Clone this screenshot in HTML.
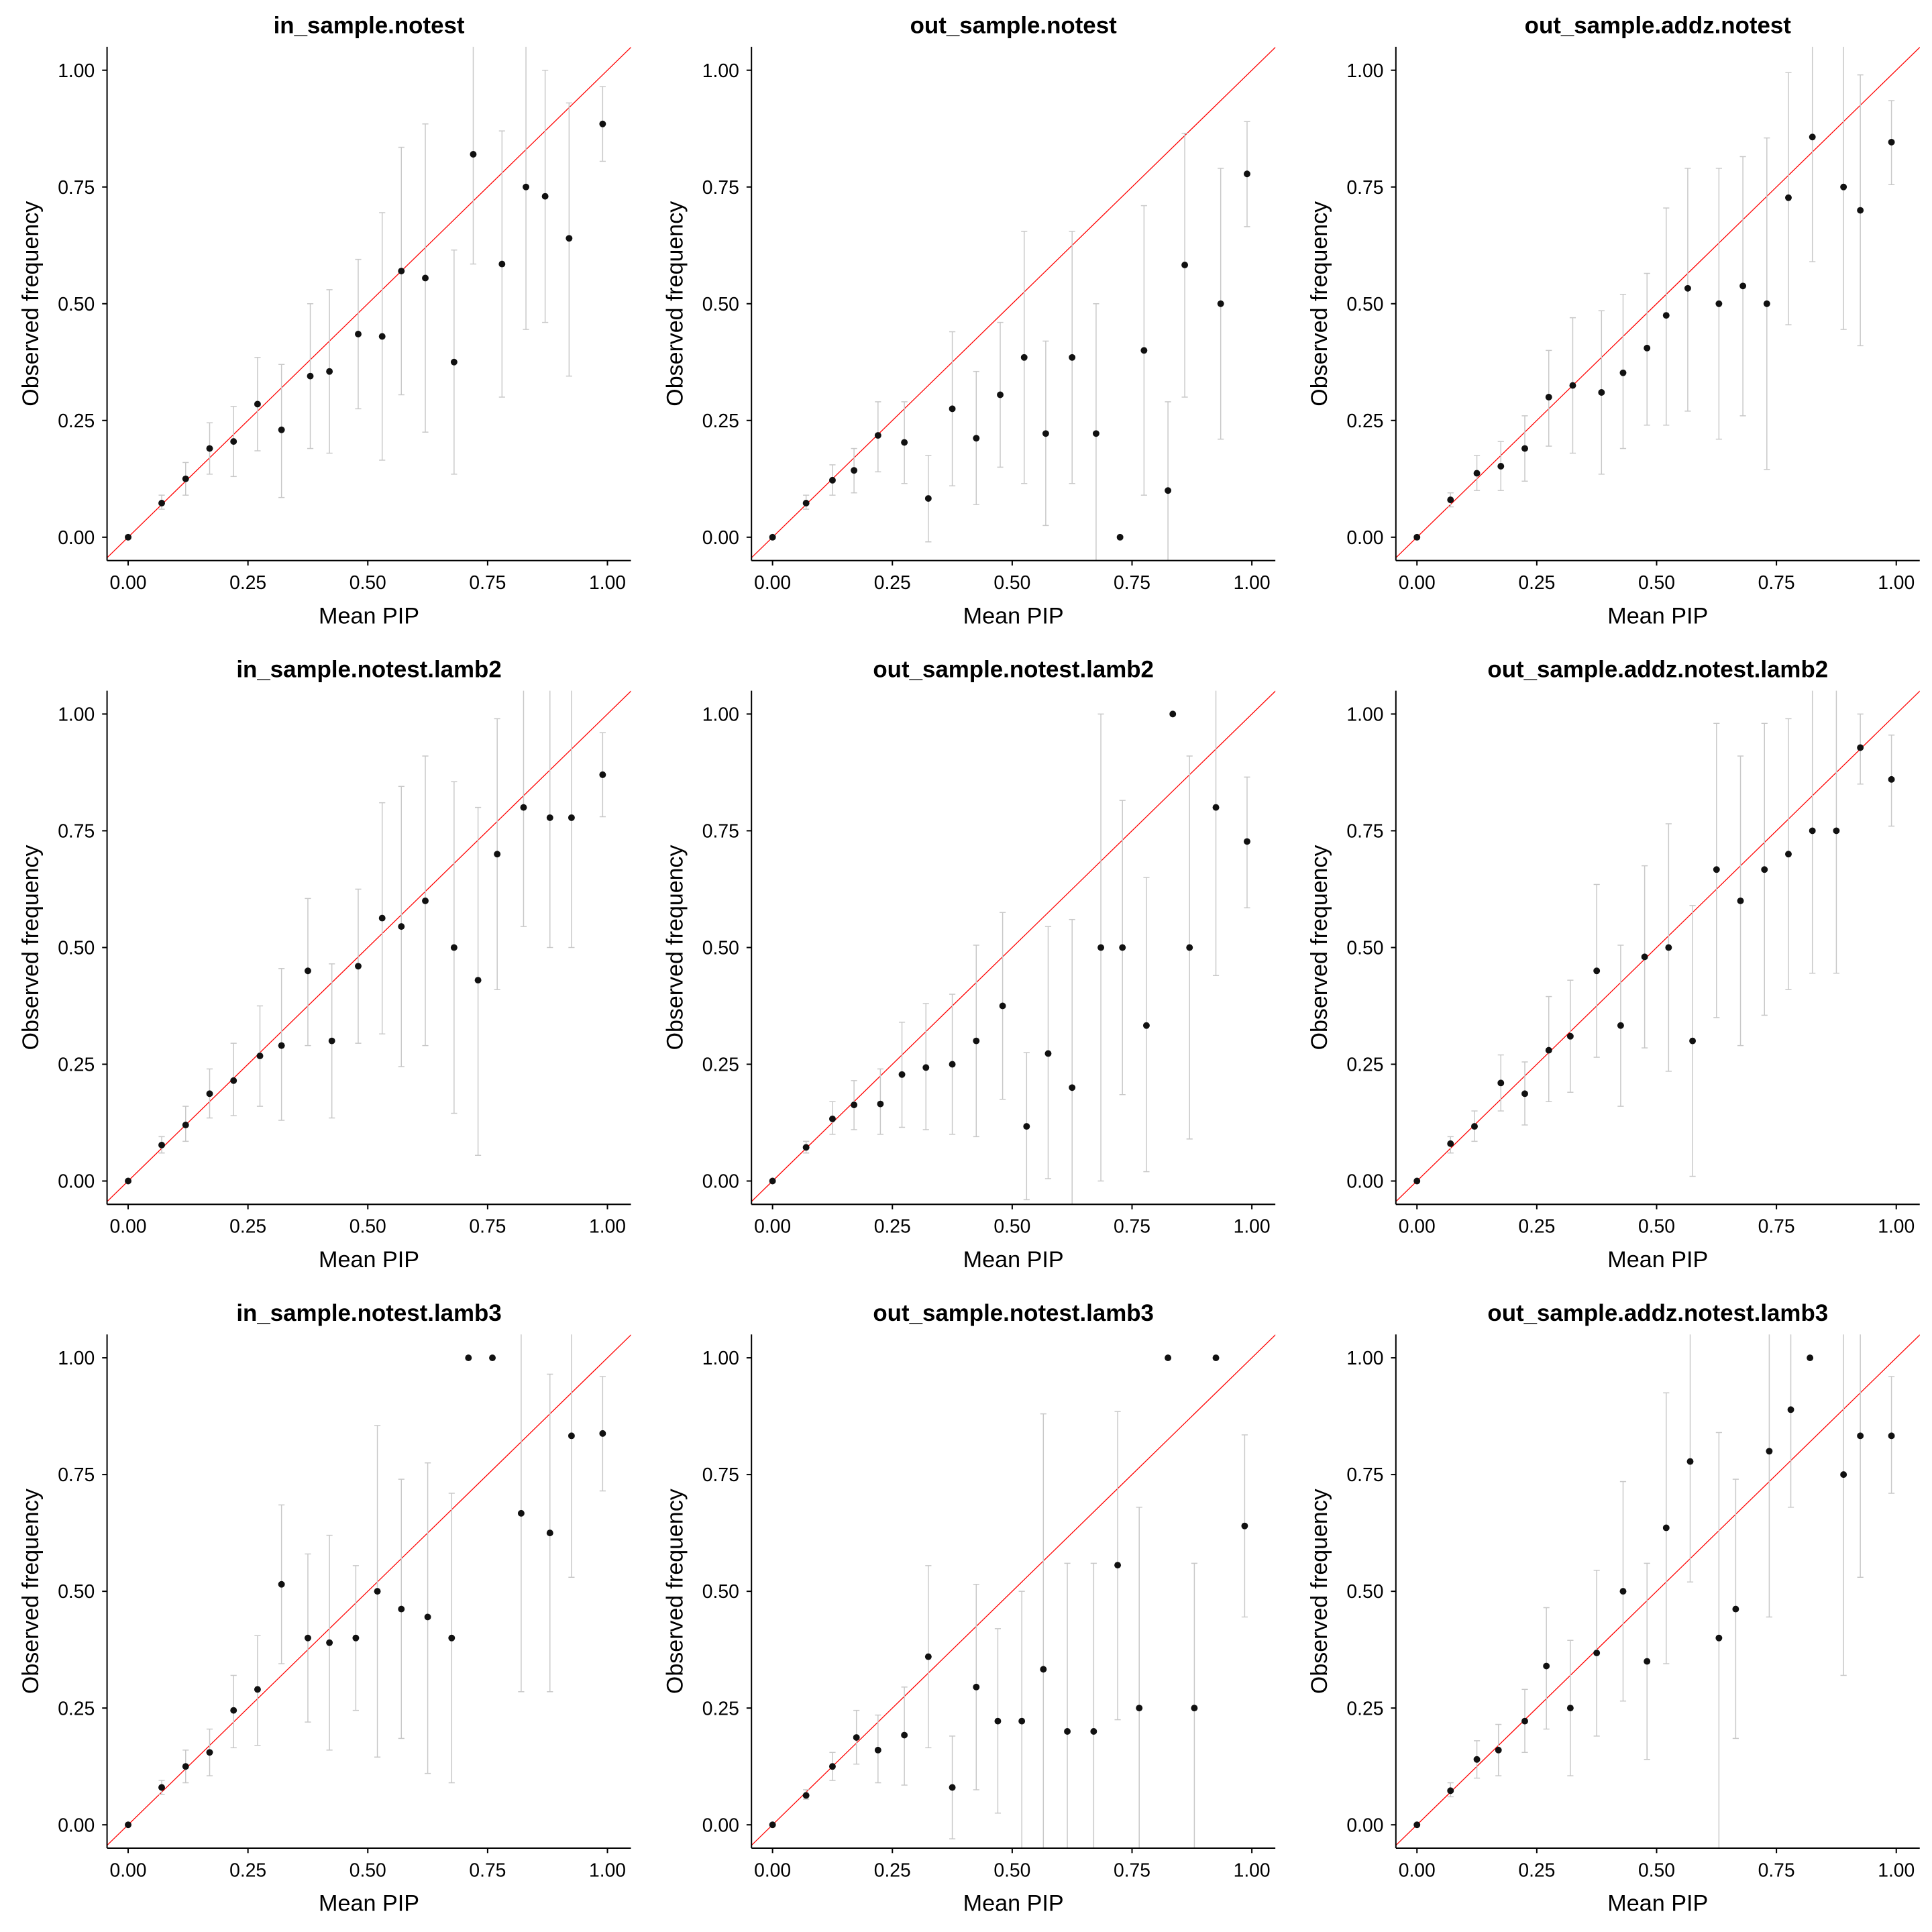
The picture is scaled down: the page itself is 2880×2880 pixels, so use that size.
<!DOCTYPE html>
<html><head><meta charset="utf-8"><style>
html,body{margin:0;padding:0;background:#fff;}
svg{display:block;}
text{font-family:"Liberation Sans",Arial,sans-serif;}
</style></head><body>
<svg id="chart" width="2880" height="2880" viewBox="0 0 1568 1568" xmlns="http://www.w3.org/2000/svg"></svg>
<script>
const panelTitles = ["in_sample.notest","out_sample.notest","out_sample.addz.notest",
"in_sample.notest.lamb2","out_sample.notest.lamb2","out_sample.addz.notest.lamb2",
"in_sample.notest.lamb3","out_sample.notest.lamb3","out_sample.addz.notest.lamb3"];
const xTicks = [0,0.25,0.5,0.75,1];
const yTicks = [0,0.25,0.5,0.75,1];
const tickLabels = ["0.00","0.25","0.50","0.75","1.00"];

const xs1=[0,0.07,0.12,0.17,0.22,0.27,0.32,0.38,0.42,0.48,0.53,0.57,0.62,0.68,0.72,0.78,0.83,0.87,0.92,0.99];
const ys1=[0,0.073,0.125,0.19,0.205,0.285,0.23,0.345,0.355,0.435,0.43,0.57,0.555,0.375,0.82,0.585,0.75,0.73,0.64,0.885];
const lo1=[0,0.06,0.09,0.135,0.13,0.185,0.085,0.19,0.18,0.275,0.165,0.305,0.225,0.135,0.585,0.3,0.445,0.46,0.345,0.805];
const hi1=[0,0.09,0.16,0.245,0.28,0.385,0.37,0.5,0.53,0.595,0.695,0.835,0.885,0.615,1.06,0.87,1.06,1.0,0.93,0.965];

const xs2=[0,0.07,0.125,0.17,0.22,0.275,0.325,0.375,0.425,0.475,0.525,0.57,0.625,0.675,0.725,0.775,0.825,0.86,0.935,0.99];
const ys2=[0,0.073,0.122,0.143,0.218,0.203,0.083,0.275,0.212,0.305,0.385,0.222,0.385,0.222,0,0.4,0.1,0.583,0.5,0.778];
const lo2=[0,0.06,0.09,0.095,0.14,0.115,-0.01,0.11,0.07,0.15,0.115,0.025,0.115,-0.06,0,0.09,-0.06,0.3,0.21,0.665];
const hi2=[0,0.09,0.155,0.19,0.29,0.29,0.175,0.44,0.355,0.46,0.655,0.42,0.655,0.5,0,0.71,0.29,0.865,0.79,0.89];

const xs3=[0,0.07,0.125,0.175,0.225,0.275,0.325,0.385,0.43,0.48,0.52,0.565,0.63,0.68,0.73,0.775,0.825,0.89,0.925,0.99];
const ys3=[0,0.08,0.137,0.152,0.19,0.3,0.325,0.31,0.352,0.405,0.475,0.533,0.5,0.538,0.5,0.727,0.857,0.75,0.7,0.846];
const lo3=[0,0.065,0.1,0.1,0.12,0.195,0.18,0.135,0.19,0.24,0.24,0.27,0.21,0.26,0.145,0.455,0.59,0.445,0.41,0.755];
const hi3=[0,0.095,0.175,0.205,0.26,0.4,0.47,0.485,0.52,0.565,0.705,0.79,0.79,0.815,0.855,0.995,1.06,1.06,0.99,0.935];

const xs4=[0,0.07,0.12,0.17,0.22,0.275,0.32,0.375,0.425,0.48,0.53,0.57,0.62,0.68,0.73,0.77,0.825,0.88,0.925,0.99];
const ys4=[0,0.077,0.12,0.187,0.215,0.268,0.29,0.45,0.3,0.46,0.563,0.545,0.6,0.5,0.43,0.7,0.8,0.778,0.778,0.87];
const lo4=[0,0.06,0.085,0.135,0.14,0.16,0.13,0.29,0.135,0.295,0.315,0.245,0.29,0.145,0.055,0.41,0.545,0.5,0.5,0.78];
const hi4=[0,0.095,0.16,0.24,0.295,0.375,0.455,0.605,0.465,0.625,0.81,0.845,0.91,0.855,0.8,0.99,1.06,1.06,1.06,0.96];

const xs5=[0,0.07,0.125,0.17,0.225,0.27,0.32,0.375,0.425,0.48,0.53,0.575,0.625,0.685,0.73,0.78,0.835,0.87,0.925,0.99];
const ys5=[0,0.072,0.133,0.163,0.165,0.228,0.243,0.25,0.3,0.375,0.117,0.273,0.2,0.5,0.5,0.333,1.0,0.5,0.8,0.727];
const lo5=[0,0.06,0.1,0.11,0.1,0.115,0.11,0.1,0.095,0.175,-0.04,0.005,-0.06,0,0.185,0.02,1,0.09,0.44,0.585];
const hi5=[0,0.085,0.17,0.215,0.24,0.34,0.38,0.4,0.505,0.575,0.275,0.545,0.56,1.0,0.815,0.65,1,0.91,1.06,0.865];

const xs6=[0,0.07,0.12,0.175,0.225,0.275,0.32,0.375,0.425,0.475,0.525,0.575,0.625,0.675,0.725,0.775,0.825,0.875,0.925,0.99];
const ys6=[0,0.08,0.117,0.21,0.187,0.28,0.31,0.45,0.333,0.48,0.5,0.3,0.667,0.6,0.667,0.7,0.75,0.75,0.928,0.86];
const lo6=[0,0.06,0.085,0.15,0.12,0.17,0.19,0.265,0.16,0.285,0.235,0.01,0.35,0.29,0.355,0.41,0.445,0.445,0.85,0.76];
const hi6=[0,0.095,0.15,0.27,0.255,0.395,0.43,0.635,0.505,0.675,0.765,0.59,0.98,0.91,0.98,0.99,1.06,1.06,1.0,0.955];

const xs7=[0,0.07,0.12,0.17,0.22,0.27,0.32,0.375,0.42,0.475,0.52,0.57,0.625,0.675,0.71,0.76,0.82,0.88,0.925,0.99];
const ys7=[0,0.08,0.125,0.155,0.245,0.29,0.515,0.4,0.39,0.4,0.5,0.462,0.445,0.4,1.0,1.0,0.667,0.625,0.833,0.838];
const lo7=[0,0.065,0.09,0.105,0.165,0.17,0.345,0.22,0.16,0.245,0.145,0.185,0.11,0.09,1,1,0.285,0.285,0.53,0.715];
const hi7=[0,0.095,0.16,0.205,0.32,0.405,0.685,0.58,0.62,0.555,0.855,0.74,0.775,0.71,1,1,1.06,0.965,1.06,0.96];

const xs8=[0,0.07,0.125,0.175,0.22,0.275,0.325,0.375,0.425,0.47,0.52,0.565,0.615,0.67,0.72,0.765,0.825,0.88,0.925,0.985];
const ys8=[0,0.063,0.125,0.187,0.16,0.192,0.36,0.08,0.295,0.222,0.222,0.333,0.2,0.2,0.556,0.25,1.0,0.25,1.0,0.64];
const lo8=[0,0.055,0.095,0.13,0.09,0.085,0.165,-0.03,0.075,0.025,-0.06,-0.06,-0.06,-0.06,0.225,-0.06,1,-0.06,1,0.445];
const hi8=[0,0.075,0.155,0.245,0.235,0.295,0.555,0.19,0.515,0.42,0.5,0.88,0.56,0.56,0.885,0.68,1,0.56,1,0.835];

const xs9=[0,0.07,0.125,0.17,0.225,0.27,0.32,0.375,0.43,0.48,0.52,0.57,0.63,0.665,0.735,0.78,0.82,0.89,0.925,0.99];
const ys9=[0,0.073,0.14,0.16,0.222,0.34,0.25,0.368,0.5,0.35,0.636,0.778,0.4,0.462,0.8,0.889,1.0,0.75,0.833,0.833];
const lo9=[0,0.06,0.1,0.105,0.155,0.205,0.105,0.19,0.265,0.14,0.345,0.52,-0.06,0.185,0.445,0.68,1,0.32,0.53,0.71];
const hi9=[0,0.09,0.18,0.215,0.29,0.465,0.395,0.545,0.735,0.56,0.925,1.06,0.84,0.74,1.06,1.06,1,1.06,1.06,0.96];

const X=[xs1,xs2,xs3,xs4,xs5,xs6,xs7,xs8,xs9];
const Y=[ys1,ys2,ys3,ys4,ys5,ys6,ys7,ys8,ys9];
const LO=[lo1,lo2,lo3,lo4,lo5,lo6,lo7,lo8,lo9];
const HI=[hi1,hi2,hi3,hi4,hi5,hi6,hi7,hi8,hi9];

const NS="http://www.w3.org/2000/svg";
const svg=document.getElementById('chart');
function mk(tag,attrs,parent){const e=document.createElementNS(NS,tag);for(const k in attrs)e.setAttribute(k,attrs[k]);(parent||svg).appendChild(e);return e;}

const x0=104, y0=436, sx=389, sy=379, dxCol=523, dyRow=522.5;
const xmin=-0.044,xmax=1.049,ymin=-0.05,ymax=1.05;

for(let p=0;p<9;p++){
  const c=p%3, r=Math.floor(p/3);
  const ox=c*dxCol, oy=r*dyRow;
  const fx=v=>ox+x0+v*sx;
  const fy=v=>oy+y0-v*sy;
  const g=mk('g',{});
  
  
  const L=fx(xmin),R=fx(xmax),T=fy(ymax),B=fy(ymin);
  const cp=mk('clipPath',{id:'clip'+p},g);
  mk('rect',{x:L,y:T,width:R-L,height:B-T},cp);
  const plot=mk('g',{'clip-path':'url(#clip'+p+')'},g);
  const ref=mk('line',{x1:fx(-0.1),y1:fy(-0.1),x2:fx(1.1),y2:fy(1.1),stroke:'#ff0000','stroke-width':0.7},plot);
  
  
  const xs=X[p],ys=Y[p],lo=LO[p],hi=HI[p];
  for(let i=0;i<xs.length;i++){
    const eb=mk('g',{stroke:'#c8c8c8','stroke-width':0.8,fill:'none'},plot);
    
    
    mk('line',{x1:fx(xs[i]),x2:fx(xs[i]),y1:fy(lo[i]),y2:fy(hi[i])},eb);
    mk('line',{x1:fx(xs[i])-2.5,x2:fx(xs[i])+2.5,y1:fy(lo[i]),y2:fy(lo[i])},eb);
    mk('line',{x1:fx(xs[i])-2.5,x2:fx(xs[i])+2.5,y1:fy(hi[i]),y2:fy(hi[i])},eb);
  }
  for(let i=0;i<xs.length;i++){
    const pt=mk('circle',{cx:fx(xs[i]),cy:fy(ys[i]),r:2.7,fill:'#111'},plot);
    
    
  }
  const xa=mk('line',{x1:L,x2:R,y1:B,y2:B,stroke:'#000','stroke-width':1.1},g);
  
  
  const ya=mk('line',{x1:L,x2:L,y1:T,y2:B,stroke:'#000','stroke-width':1.1},g);
  
  
  for(let k=0;k<xTicks.length;k++){
    const tx=fx(xTicks[k]);
    mk('line',{x1:tx,x2:tx,y1:B,y2:B+4,stroke:'#000','stroke-width':1.1},g);
    const t=mk('text',{x:tx,y:B+23,'font-size':15.4,'text-anchor':'middle',fill:'#000'},g);
    
    
    t.textContent=tickLabels[k];
  }
  for(let k=0;k<yTicks.length;k++){
    const ty=fy(yTicks[k]);
    mk('line',{x1:L-4,x2:L,y1:ty,y2:ty,stroke:'#000','stroke-width':1.1},g);
    const t=mk('text',{x:L-10,y:ty+5.5,'font-size':15.4,'text-anchor':'end',fill:'#000'},g);
    
    
    t.textContent=tickLabels[k];
  }
  const xt=mk('text',{x:(L+R)/2,y:B+51,'font-size':18.6,'text-anchor':'middle',fill:'#000'},g);
  
  
  xt.textContent='Mean PIP';
  const ytx=ox+31, yty=(T+B)/2;
  const yt=mk('text',{x:ytx,y:yty,'font-size':18.5,'text-anchor':'middle',fill:'#000',transform:'rotate(-90 '+ytx+' '+yty+')'},g);
  
  
  yt.textContent='Observed frequency';
  const tt=mk('text',{x:(L+R)/2,y:oy+27,'font-size':19,'font-weight':'bold','text-anchor':'middle',fill:'#000'},g);
  
  
  tt.textContent=panelTitles[p];
}
</script>
</body></html>
